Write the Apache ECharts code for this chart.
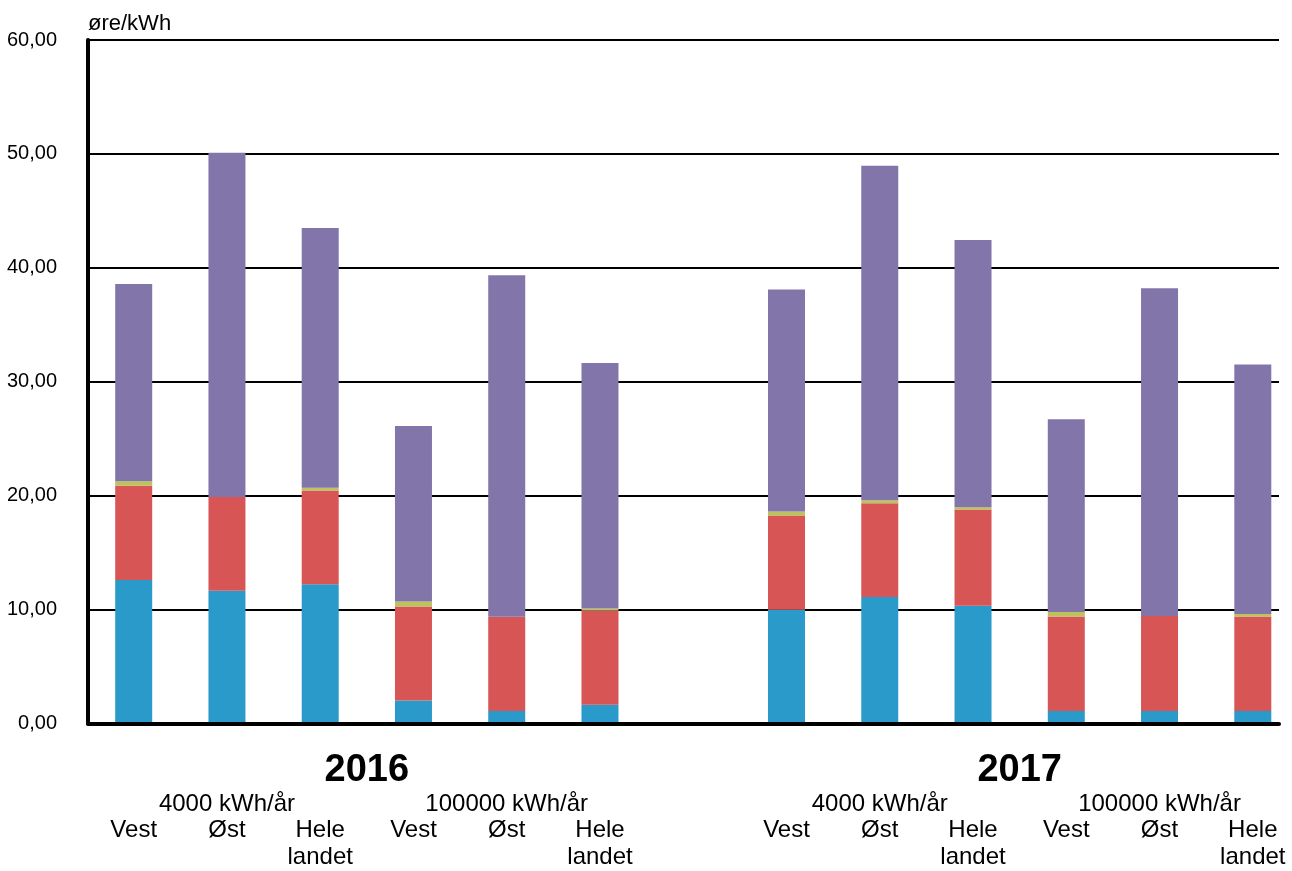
<!DOCTYPE html>
<html>
<head>
<meta charset="utf-8">
<script src="https://cdn.jsdelivr.net/npm/echarts@6/dist/echarts.min.js"></script>
<style>
html,body{margin:0;padding:0;background:#fff}
#main{width:1292px;height:871px}
</style>
</head>
<body>
<div id="main"></div>
<script>
//data
var categories=["Vest","Øst","Hele\nlandet","Vest","Øst","Hele\nlandet","","Vest","Øst","Hele\nlandet","Vest","Øst","Hele\nlandet"];
var groupLabels=["","4000 kWh/år","","","100000 kWh/år","","","","4000 kWh/år","","","100000 kWh/år",""];
var years=["2016","2017"];
var yearSlots=[[0,5],[7,12]];
var blueSeg=[12.50,11.55,12.12,1.90,0.97,1.52,null,9.88,11.00,10.23,0.97,0.97,0.97];
var redSeg=[8.28,8.25,8.25,8.26,8.28,8.28,null,8.28,8.25,8.47,8.32,8.35,8.32];
var greenSeg=[0.41,0,0.23,0.44,0,0.18,null,0.35,0.26,0.20,0.39,0,0.22];
var purpleSeg=[17.35,30.27,22.85,15.45,30.05,21.60,null,19.55,29.42,23.50,16.95,28.85,21.95];
var yMin=0,yMax=60,yStep=10;

var font="Liberation Sans, Arial, sans-serif";
var chart=echarts.init(document.getElementById("main"));

function seg(name,data,color){
    return {
        name:name,type:"bar",stack:"total",data:data,
        xAxisIndex:1,yAxisIndex:1,barWidth:37,
        itemStyle:{color:color},
        emphasis:{disabled:true}
    };
}

var labelStyle={interval:0,color:"#000",fontSize:24,lineHeight:27,fontFamily:font,verticalAlign:"top"};

chart.setOption({
    animation:false,
    textStyle:{fontFamily:font},
    grid:[
        {left:88,right:13,top:40,bottom:147.5},
        //bar slots: first/last bar centres
        {left:133.7,right:39.2,top:40,bottom:147.5}
    ],
    xAxis:[
        {type:"category",gridIndex:0,data:[""],
         axisLine:{lineStyle:{color:"#000",width:4}},
         axisTick:{show:false},axisLabel:{show:false}},
        {type:"category",gridIndex:1,data:categories,boundaryGap:false,
         axisLine:{show:false},axisTick:{show:false},
         axisLabel:Object.assign({margin:95},labelStyle)},
        {type:"category",gridIndex:1,data:groupLabels,boundaryGap:false,position:"bottom",
         axisLine:{show:false},axisTick:{show:false},
         axisLabel:Object.assign({margin:69},labelStyle)}
    ],
    yAxis:[
        {type:"value",gridIndex:0,min:yMin,max:yMax,interval:yStep,
         name:"øre/kWh",nameLocation:"end",nameGap:5,
         nameTextStyle:{align:"left",color:"#000",fontSize:22,fontFamily:font},
         axisLine:{show:true,lineStyle:{color:"#000",width:4}},
         axisTick:{show:false},
         axisLabel:{margin:31,color:"#000",fontSize:20,fontFamily:font,padding:[6,0,0,0],
            formatter:function(v){return v.toFixed(2).replace(".",",");}},
         splitLine:{lineStyle:{color:"#000",width:2}}},
        {type:"value",gridIndex:1,min:yMin,max:yMax,interval:yStep,show:false}
    ],
    series:[
        seg("blå",blueSeg,"#2a9aca"),
        seg("rød",redSeg,"#d85555"),
        seg("grønn",greenSeg,"#bcc25c"),
        seg("lilla",purpleSeg,"#8275aa")
    ]
});

//year labels centred under each group of bars
var texts=[];
for(var i=0;i<years.length;i++){
    var a=chart.convertToPixel({xAxisIndex:1},yearSlots[i][0]);
    var b=chart.convertToPixel({xAxisIndex:1},yearSlots[i][1]);
    texts.push({
        type:"text",x:(a+b)/2,y:771,
        style:{text:years[i],fill:"#000",font:"bold 38px "+font,align:"center",verticalAlign:"middle"}
    });
}
chart.setOption({graphic:texts});
</script>
</body>
</html>
